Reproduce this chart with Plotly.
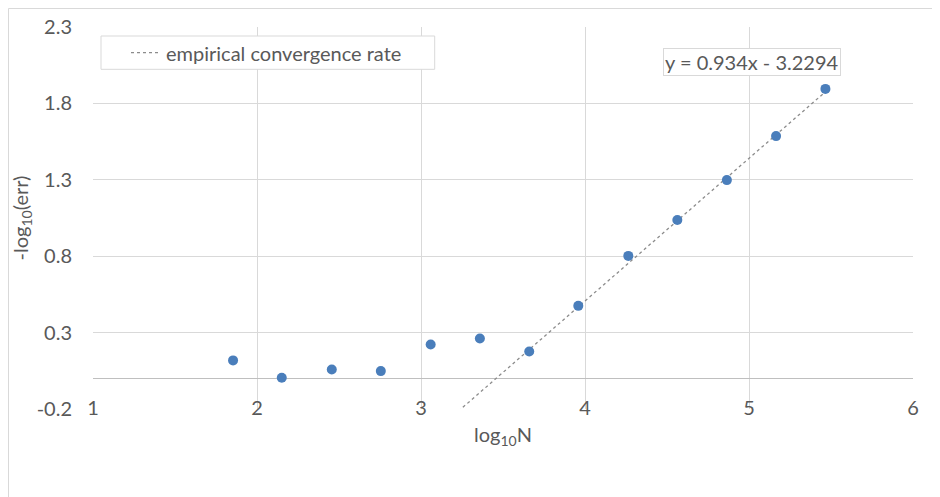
import plotly.graph_objects as go

# data
log_n = [1.854, 2.151, 2.456, 2.755, 3.059, 3.359, 3.660, 3.959, 4.264, 4.563, 4.865, 5.165, 5.466]
neg_log_err = [0.118, 0.005, 0.059, 0.048, 0.222, 0.261, 0.176, 0.475, 0.802, 1.037, 1.298, 1.586, 1.895]

slope = 0.934
intercept = -3.2294
trend_x = [3.2, 5.466]
trend_y = [slope * x + intercept for x in trend_x]

x_ticks = [1, 2, 3, 4, 5, 6]
y_ticks = [-0.2, 0.3, 0.8, 1.3, 1.8, 2.3]

FONT = "Lato"
TXT = "#595959"
GRID = "#d9d9d9"
FS = 20

fig = go.Figure()
fig.add_trace(go.Scatter(
    x=trend_x, y=trend_y, mode="lines",
    line=dict(color="#8c8c8c", width=1.3, dash="dot"),
    name="empirical convergence rate", showlegend=True,
))
fig.add_trace(go.Scatter(
    x=log_n, y=neg_log_err, mode="markers",
    marker=dict(color="#4a7ebb", size=10),
    showlegend=False, name="data",
))

# page has an 8px body margin; figure sized to fit the window
W, H = 932, 489
L, R, T, B = 85, 27, 19, 88
pw, ph = W - L - R, H - T - B


def px_x(p):
    return (p - L) / pw


def px_y(p):
    return (H - B - p) / ph


fig.update_layout(
    width=W, height=H,
    margin=dict(l=L, r=R, t=T, b=B, autoexpand=False),
    paper_bgcolor="white", plot_bgcolor="white",
    font=dict(family=FONT, size=FS, color=TXT),
    xaxis=dict(
        range=[1, 6], tickvals=x_ticks, ticktext=[str(v) for v in x_ticks],
        showgrid=True, gridcolor=GRID, gridwidth=1,
        zeroline=False, showline=False, ticks="",
        ticklabelstandoff=-15,
        title=dict(text="log<sub>10</sub>N", standoff=9, font=dict(size=FS)),
        fixedrange=True,
    ),
    yaxis=dict(
        range=[-0.2, 2.3], tickvals=y_ticks, ticktext=[f"{v:.1f}" for v in y_ticks],
        showgrid=True, gridcolor=GRID, gridwidth=1,
        zeroline=True, zerolinecolor="#bfbfbf", zerolinewidth=1,
        showline=False, ticks="",
        ticklabelstandoff=20,
        title=dict(text="-log<sub>10</sub>(err)", standoff=13, font=dict(size=FS)),
        fixedrange=True,
    ),
    legend=dict(
        orientation="v", x=px_x(118), y=px_y(44.7), xanchor="left", yanchor="middle",
        borderwidth=0, bgcolor="rgba(0,0,0,0)",
        font=dict(size=FS, color=TXT), itemwidth=30,
    ),
    showlegend=True,
    annotations=[dict(
        x=5.018, y=2.071, xref="x", yref="y",
        text="y = 0.934x - 3.2294", showarrow=False,
        font=dict(size=FS, color=TXT),
        bordercolor=GRID, borderwidth=1, bgcolor="white", borderpad=1,
    )],
    shapes=[
        # legend box
        dict(type="rect", xref="paper", yref="paper", layer="above",
             x0=px_x(93), x1=px_x(426.7), y0=px_y(28), y1=px_y(61.3),
             fillcolor="white", line=dict(color=GRID, width=1)),
        # chart-area frame
        dict(type="line", xref="paper", yref="paper",
             x0=px_x(0.5), x1=px_x(935), y0=px_y(0.5), y1=px_y(0.5),
             line=dict(color=GRID, width=1)),
        dict(type="line", xref="paper", yref="paper",
             x0=px_x(0.5), x1=px_x(0.5), y0=px_y(0.5), y1=px_y(492),
             line=dict(color=GRID, width=1)),
    ],
)

fig.write_html("out.html")
